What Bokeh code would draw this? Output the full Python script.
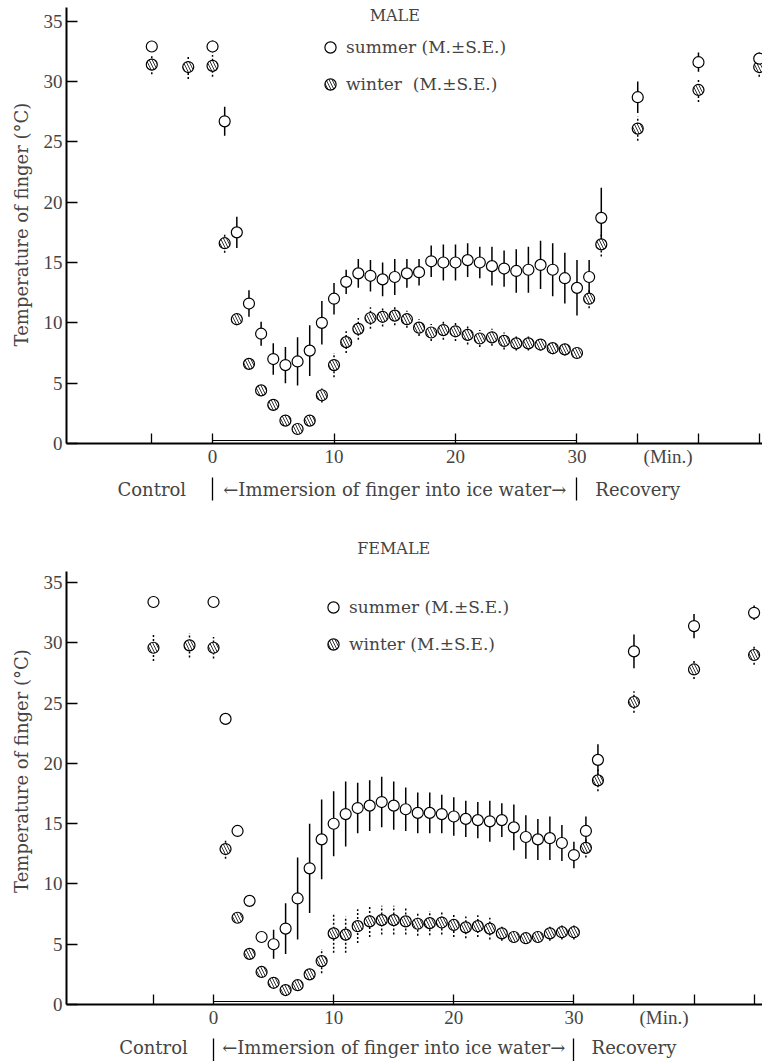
from bokeh.plotting import figure
from bokeh.models import (ColumnDataSource, FixedTicker, LinearAxis, Range1d,
                          Legend, LegendItem, Label)
from bokeh.layouts import column
from bokeh.embed import file_html
from bokeh.resources import INLINE

# ---------------- data (minutes; control at -5,-2,0; immersion 1-30; recovery after 30) -------------
male_summer_t = [-5, 0, 1, 2, 3, 4, 5, 6, 7, 8, 9, 10, 11, 12, 13, 14, 15, 16, 17, 18, 19, 20,
                 21, 22, 23, 24, 25, 26, 27, 28, 29, 30, 31, 32, 35, 40, 45]
male_summer_mean = [32.9, 32.9, 26.7, 17.5, 11.6, 9.1, 7.0, 6.5, 6.8, 7.7, 10.0, 12.0, 13.4, 14.1,
                    13.9, 13.6, 13.8, 14.1, 14.2, 15.1, 15.0, 15.0, 15.2, 15.0, 14.7, 14.5, 14.3,
                    14.4, 14.8, 14.4, 13.7, 12.9, 13.8, 18.7, 28.7, 31.6, 31.9]
male_summer_se = [0.4, 0.5, 1.2, 1.3, 1.1, 1.0, 1.3, 1.5, 2.0, 2.1, 1.8, 1.3, 1.0, 1.2, 1.3, 1.4,
                  1.5, 1.2, 1.1, 1.3, 1.5, 1.5, 1.4, 1.3, 1.6, 1.5, 1.8, 1.9, 2.0, 2.2, 2.1, 2.3,
                  1.4, 2.5, 1.3, 0.8, 0.5]

male_winter_t = [-5, -2, 0, 1, 2, 3, 4, 5, 6, 7, 8, 9, 10, 11, 12, 13, 14, 15, 16, 17, 18, 19, 20,
                 21, 22, 23, 24, 25, 26, 27, 28, 29, 30, 31, 32, 35, 40, 45]
male_winter_mean = [31.4, 31.2, 31.3, 16.6, 10.3, 6.6, 4.4, 3.2, 1.9, 1.2, 1.9, 4.0, 6.5, 8.4, 9.5,
                    10.4, 10.5, 10.6, 10.3, 9.6, 9.2, 9.4, 9.3, 9.0, 8.7, 8.8, 8.5, 8.3, 8.3, 8.2,
                    7.9, 7.8, 7.5, 12.0, 16.5, 26.1, 29.3, 31.2]
male_winter_se = [0.8, 1.0, 0.9, 0.8, 0.5, 0.4, 0.3, 0.3, 0.3, 0.3, 0.4, 0.6, 1.0, 0.9, 0.9, 0.9,
                  0.8, 0.8, 0.7, 0.7, 0.7, 0.8, 0.8, 0.8, 0.7, 0.7, 0.7, 0.6, 0.6, 0.5, 0.5, 0.5,
                  0.5, 0.8, 1.0, 1.0, 1.0, 0.8]

female_summer_t = [-5, 0, 1, 2, 3, 4, 5, 6, 7, 8, 9, 10, 11, 12, 13, 14, 15, 16, 17, 18, 19, 20,
                   21, 22, 23, 24, 25, 26, 27, 28, 29, 30, 31, 32, 35, 40, 45]
female_summer_mean = [33.4, 33.4, 23.7, 14.4, 8.6, 5.6, 5.0, 6.3, 8.8, 11.3, 13.7, 15.0, 15.8, 16.3,
                      16.5, 16.8, 16.5, 16.2, 15.9, 15.9, 15.8, 15.6, 15.4, 15.3, 15.2, 15.3, 14.7,
                      13.9, 13.7, 13.8, 13.4, 12.4, 14.4, 20.3, 29.3, 31.4, 32.5]
female_summer_se = [0.5, 0.3, 0.3, 0.3, 0.3, 0.4, 1.2, 2.1, 3.4, 3.7, 3.3, 2.7, 2.7, 2.1, 2.1, 2.1,
                    2.0, 1.8, 1.7, 1.7, 1.6, 1.6, 1.5, 1.5, 1.7, 1.4, 1.9, 1.8, 1.7, 1.8, 1.5, 1.1,
                    1.2, 1.3, 1.4, 1.0, 0.6]

female_winter_t = [-5, -2, 0, 1, 2, 3, 4, 5, 6, 7, 8, 9, 10, 11, 12, 13, 14, 15, 16, 17, 18, 19, 20,
                   21, 22, 23, 24, 25, 26, 27, 28, 29, 30, 31, 32, 35, 40, 45]
female_winter_mean = [29.6, 29.8, 29.6, 12.9, 7.2, 4.2, 2.7, 1.8, 1.2, 1.6, 2.5, 3.6, 5.9, 5.8, 6.5,
                      6.9, 7.0, 7.0, 6.9, 6.7, 6.75, 6.8, 6.6, 6.4, 6.5, 6.3, 5.9, 5.6, 5.5, 5.6,
                      5.9, 6.0, 6.0, 13.0, 18.6, 25.1, 27.8, 29.0]
female_winter_se = [1.1, 1.0, 0.9, 0.8, 0.3, 0.3, 0.3, 0.3, 0.3, 0.3, 0.4, 1.0, 1.6, 1.5, 1.4, 1.3,
                    1.2, 1.2, 1.1, 1.0, 1.0, 1.0, 1.0, 0.9, 0.9, 0.9, 0.6, 0.5, 0.4, 0.5, 0.6, 0.6,
                    0.6, 0.8, 0.9, 0.9, 0.8, 0.8]

y_ticks = [0, 5, 10, 15, 20, 25, 30, 35]
x_label_ticks = [0, 10, 20, 30]
x_unit_pos = 37.5
x_unit_label = "(Min.)"
x_mark_ticks = [-5, 0, 10, 20, 30, 35, 40, 45]
phase_pos = [-5, 15, 35]
phase_labels = ["Control", "\u2190Immersion of finger into ice water\u2192", "Recovery"]
immersion = [0, 30]
y_label = "Temperature of finger (\u00b0C)"

SERIF = "DejaVu Serif"
NUMF = "Liberation Serif"


def make_panel(title, st, sm, sse, wt, wm, wse, winter_label, *, height, left, top, bottom,
               xr, yr, ybound, title_y, legend_loc, phase_standoff):
    p = figure(width=762, height=height, x_range=Range1d(*xr), y_range=Range1d(*yr),
               output_backend="svg", toolbar_location=None,
               min_border_left=left, min_border_right=0, min_border_top=top,
               min_border_bottom=bottom)
    p.outline_line_color = None
    p.grid.visible = False
    p.background_fill_color = "white"

    # y axis
    ya = p.yaxis[0]
    ya.ticker = FixedTicker(ticks=y_ticks, minor_ticks=[])
    ya.bounds = (0, ybound)
    ya.major_tick_in = 11
    ya.major_tick_out = 0
    ya.axis_line_width = 2
    ya.major_tick_line_width = 1.3
    ya.major_label_text_font = NUMF
    ya.major_label_text_font_size = "19px"
    ya.major_label_standoff = 4
    ya.axis_label = y_label
    ya.axis_label_text_font = SERIF
    ya.axis_label_text_font_style = "normal"
    ya.axis_label_text_font_size = "18px"
    ya.axis_label_standoff = 9

    # x axis (ticks + minutes)
    xa = p.xaxis[0]
    xa.ticker = FixedTicker(ticks=x_label_ticks + [x_unit_pos], minor_ticks=x_mark_ticks)
    xa.major_label_overrides = {x_unit_pos: x_unit_label}
    xa.major_tick_in = 0
    xa.major_tick_out = 0
    xa.minor_tick_in = 10
    xa.minor_tick_out = 0
    xa.minor_tick_line_width = 1.3
    xa.axis_line_width = 2
    xa.major_label_text_font = NUMF
    xa.major_label_text_font_size = "19px"
    xa.major_label_standoff = 2

    # phase labels axis
    pa = LinearAxis(ticker=FixedTicker(ticks=phase_pos, minor_ticks=immersion),
                    major_label_overrides={k: v for k, v in zip(phase_pos, phase_labels)},
                    axis_line_color=None, major_tick_in=0, major_tick_out=0,
                    minor_tick_in=-8, minor_tick_out=31, minor_tick_line_width=1.3,
                    major_label_text_font=SERIF, major_label_text_font_size="18px",
                    major_label_standoff=phase_standoff)
    p.add_layout(pa, "below")

    # immersion bracket line
    p.segment(x0=[immersion[0]], x1=[immersion[1]], y0=[0.25], y1=[0.25],
              line_color="black", line_width=1.2)

    s_src = ColumnDataSource(dict(t=st, m=sm,
                                  lo=[a - b for a, b in zip(sm, sse)],
                                  hi=[a + b for a, b in zip(sm, sse)]))
    w_src = ColumnDataSource(dict(t=wt, m=wm,
                                  lo=[a - b for a, b in zip(wm, wse)],
                                  hi=[a + b for a, b in zip(wm, wse)]))

    p.segment(x0="t", x1="t", y0="lo", y1="hi", source=w_src, line_color="black",
              line_width=1.5, line_dash="2 2")
    p.segment(x0="t", x1="t", y0="lo", y1="hi", source=s_src, line_color="black",
              line_width=1.5)
    rw = p.scatter(x="t", y="m", source=w_src, marker="circle", size=11,
                   fill_color="white", line_color="black", line_width=1.2,
                   hatch_pattern="\\", hatch_color="#333333", hatch_scale=6,
                   hatch_weight=1.0)
    rs = p.scatter(x="t", y="m", source=s_src, marker="circle", size=11,
                   fill_color="white", line_color="black", line_width=1.2)

    legend = Legend(items=[LegendItem(label="summer (M.\u00b1S.E.)", renderers=[rs]),
                           LegendItem(label=winter_label, renderers=[rw])],
                    location=legend_loc, glyph_width=28, glyph_height=28, spacing=9,
                    label_standoff=2, padding=0, margin=0, border_line_color=None,
                    background_fill_alpha=0, label_text_font=SERIF,
                    label_text_font_size="17px")
    p.add_layout(legend)

    p.add_layout(Label(x=15, y=title_y, text=title, text_align="center",
                       text_baseline="middle", text_font=SERIF, text_font_size="16px"))
    return p


p1 = make_panel("MALE", male_summer_t, male_summer_mean, male_summer_se,
                male_winter_t, male_winter_mean, male_winter_se,
                "winter  (M.\u00b1S.E.)",
                height=522, left=66, top=5, bottom=79,
                xr=(-12.02, 45.27), yr=(0, 36.3), ybound=36.1, title_y=35.45,
                legend_loc=(250, 345), phase_standoff=-22)
p2 = make_panel("FEMALE", female_summer_t, female_summer_mean, female_summer_se,
                female_winter_t, female_winter_mean, female_winter_se,
                "winter (M.\u00b1S.E.)",
                height=539, left=58, top=15, bottom=57,
                xr=(-12.24, 45.70), yr=(0, 38.75), ybound=35.9, title_y=37.85,
                legend_loc=(253, 346), phase_standoff=-25)

layout = column(p1, p2, spacing=0)
open("out.html", "w").write(file_html(layout, INLINE))
